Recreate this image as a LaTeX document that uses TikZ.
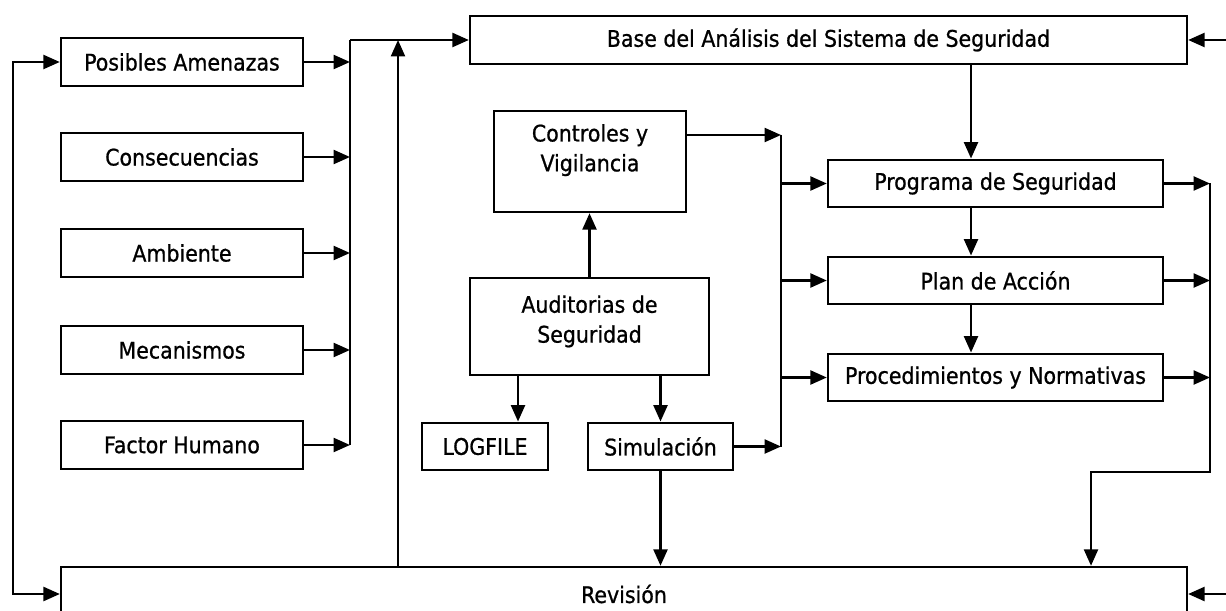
\documentclass[tikz,border=0pt]{standalone}
\usepackage{fontspec}
\newfontfamily\boxfont[FakeBold=0.8]{DejaVu Sans Condensed}
\usetikzlibrary{arrows.meta}
\begin{document}
\begin{tikzpicture}[x=0.02cm, y=-0.02cm, line width=1.4pt, line join=miter,
		>={Triangle[length=3.3mm,width=2.8mm]},
		box/.style={draw, inner sep=0pt, minimum height=0.95cm, align=center,
			font=\boxfont\fontsize{13}{17}\selectfont}]
			\useasboundingbox (0,0) rectangle (1226,611);
			% left column
			\node[box, minimum width=4.84cm] (pa) at (182,62) {Posibles Amenazas};
			\node[box, minimum width=4.84cm] (cons) at (182,157) {Consecuencias};
			\node[box, minimum width=4.84cm] (amb) at (182,253) {Ambiente};
			\node[box, minimum width=4.84cm] (mec) at (182,350) {Mecanismos};
			\node[box, minimum width=4.84cm] (fh) at (182,445) {Factor Humano};
			% top and bottom
			\node[box, minimum width=14.34cm] (base) at (828.5,40) {Base del Análisis del Sistema de Seguridad};
			\node[box, minimum width=22.52cm, minimum height=1.08cm] (rev) at (624,594) {Revisión};
			% middle
			\node[box, minimum width=3.84cm, minimum height=2.02cm, text depth=0.55cm] (ctrl) at (590,161.5) {Controles y\\Vigilancia};
			\node[box, minimum width=4.78cm, minimum height=1.94cm, text depth=0.3cm] (aud) at (589.5,326.5) {Auditorias de\\Seguridad};
			\node[box, minimum width=2.52cm] (log) at (485,446.5) {LOGFILE};
			\node[box, minimum width=2.9cm] (sim) at (660.5,446.5) {Simulación};
			% right column
			\node[box, minimum width=6.7cm] (prog) at (995.5,183.5) {Programa de Seguridad};
			\node[box, minimum width=6.7cm] (plan) at (995.5,280.5) {Plan de Acción};
			\node[box, minimum width=6.7cm] (proc) at (995.5,377.5) {Procedimientos y Normativas};
			% bus points
			\coordinate (busL) at (350,40);
			\coordinate (up) at (398,40);
			\coordinate (busM) at (781,135);
			\coordinate (busR) at (1210,472);
			\coordinate (dn) at (1091,472);
			\coordinate (mid) at (971,0);
			\coordinate (inB) at (1226,40);
			\coordinate (inR) at (1226,594);
			% left loop
			\draw[<->] (pa.west) -- ++(-47,0) |- (rev.west);
			\foreach \n in {pa,cons,amb,mec,fh}
				\draw[->] (\n.east) -- (\n.east -| busL);
			\draw (busL |- fh.east) -- (busL);
			\draw[->] (busL) -- (base.west);
			\draw[->] (up |- rev.north) -- (up);
			\draw[->] (inB) -- (base.east);
			\draw[->] (inR) -- (rev.east);
			% centre
			\draw[->] (aud.north) -- (aud.north |- ctrl.south);
			\draw[->] (aud.south -| 518,0) -- (log.north -| 518,0);
			\draw[->] (aud.south -| sim.north) -- (sim.north);
			\draw[->] (sim.south) -- (sim.south |- rev.north);
			\draw[->] (ctrl.east |- busM) -- (busM);
			\draw[->] (sim.east) -- (sim.east -| busM);
			\draw (busM) -- (busM |- sim.east);
			\foreach \n in {prog,plan,proc}
				\draw[->] (busM |- \n.west) -- (\n.west);
			% right column
			\draw[->] (base.south -| mid) -- (prog.north -| mid);
			\draw[->] (prog.south -| mid) -- (plan.north -| mid);
			\draw[->] (plan.south -| mid) -- (proc.north -| mid);
			\foreach \n in {prog,plan,proc}
				\draw[->] (\n.east) -- (\n.east -| busR);
			\draw[->] (prog.east -| busR) -- (busR) -- (dn) -- (dn |- rev.north);
	\end{tikzpicture}
\end{document}
